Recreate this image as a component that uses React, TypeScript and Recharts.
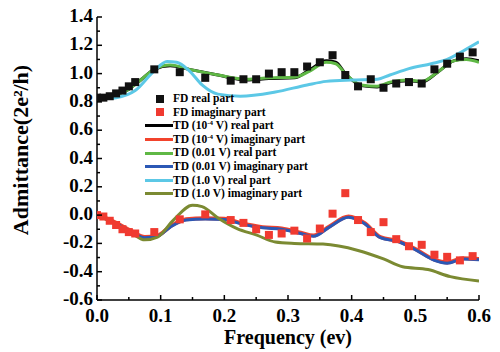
import React from 'react';
import {
  ComposedChart,
  Line,
  Scatter,
  XAxis,
  YAxis,
  Legend,
} from 'recharts';

// FD points (frequency in eV, admittance in 2e^2/h)
const fdFreq = [0, 0.01, 0.02, 0.03, 0.04, 0.05, 0.06, 0.09, 0.13, 0.17, 0.21, 0.23, 0.25, 0.27, 0.29, 0.31, 0.33, 0.35, 0.37, 0.39, 0.41, 0.43, 0.45, 0.47, 0.49, 0.51, 0.53, 0.55, 0.57, 0.59];
const fdReal = [0.83, 0.83, 0.84, 0.86, 0.88, 0.91, 0.94, 1.03, 1.01, 0.97, 0.95, 0.96, 0.96, 1.0, 1.01, 1.01, 1.05, 1.08, 1.13, 0.99, 0.91, 0.96, 0.9, 0.93, 0.94, 0.93, 1.03, 1.07, 1.12, 1.15];
const fdImag = [0.0, -0.01, -0.04, -0.07, -0.1, -0.12, -0.13, -0.12, -0.03, 0.005, -0.035, -0.055, -0.1, -0.14, -0.13, -0.11, -0.165, -0.095, 0.01, 0.155, -0.035, -0.12, -0.05, -0.17, -0.22, -0.21, -0.28, -0.295, -0.32, -0.29];

// TD curves
const realFreq = [0, 0.03, 0.05, 0.07, 0.09, 0.115, 0.145, 0.19, 0.235, 0.27, 0.31, 0.335, 0.36, 0.375, 0.39, 0.415, 0.44, 0.46, 0.49, 0.51, 0.535, 0.56, 0.58, 0.6];
const tdLowReal = [0.82, 0.85, 0.89, 0.96, 1.03, 1.055, 1.03, 0.99, 0.955, 0.965, 0.97, 1.03, 1.09, 1.08, 1.0, 0.915, 0.905, 0.935, 0.95, 0.94, 1.01, 1.09, 1.105, 1.09];
const tdMidReal = [0.82, 0.85, 0.89, 0.96, 1.03, 1.06, 1.03, 0.99, 0.96, 0.97, 0.975, 1.02, 1.08, 1.07, 1.0, 0.92, 0.91, 0.94, 0.955, 0.945, 1.01, 1.09, 1.1, 1.08];

const cyanFreq = [0, 0.03, 0.06, 0.09, 0.11, 0.125, 0.145, 0.165, 0.19, 0.225, 0.28, 0.33, 0.36, 0.4, 0.44, 0.46, 0.49, 0.525, 0.55, 0.575, 0.6];
const tdHighReal = [0.82, 0.83, 0.88, 1.02, 1.085, 1.08, 1.02, 0.92, 0.855, 0.84, 0.87, 0.92, 0.945, 0.955, 0.96, 0.99, 1.035, 1.07, 1.1, 1.16, 1.225];

const imagFreq = [0, 0.03, 0.055, 0.075, 0.095, 0.115, 0.14, 0.17, 0.2, 0.225, 0.26, 0.29, 0.32, 0.34, 0.365, 0.395, 0.42, 0.445, 0.475, 0.5, 0.53, 0.55, 0.575, 0.6];
const tdLowImag = [0.005, -0.055, -0.115, -0.155, -0.145, -0.08, -0.03, -0.022, -0.026, -0.055, -0.085, -0.095, -0.125, -0.145, -0.08, -0.01, -0.055, -0.155, -0.185, -0.24, -0.315, -0.335, -0.305, -0.31];
const tdMidImag = [0.0, -0.06, -0.12, -0.16, -0.15, -0.085, -0.035, -0.028, -0.031, -0.06, -0.09, -0.1, -0.13, -0.15, -0.085, -0.015, -0.06, -0.16, -0.19, -0.245, -0.32, -0.34, -0.31, -0.315];

const oliveFreq = [0, 0.03, 0.055, 0.075, 0.095, 0.12, 0.15, 0.165, 0.19, 0.22, 0.25, 0.28, 0.31, 0.355, 0.41, 0.45, 0.48, 0.52, 0.555, 0.6];
const tdHighImag = [0, -0.065, -0.13, -0.175, -0.155, -0.035, 0.07, 0.06, -0.02, -0.095, -0.14, -0.19, -0.2, -0.205, -0.25, -0.31, -0.365, -0.385, -0.435, -0.465];

const xTicks = [0, 0.05, 0.1, 0.15, 0.2, 0.25, 0.3, 0.35, 0.4, 0.45, 0.5, 0.55, 0.6];
const yTicks = [-0.6, -0.5, -0.4, -0.3, -0.2, -0.1, 0, 0.1, 0.2, 0.3, 0.4, 0.5, 0.6, 0.7, 0.8, 0.9, 1.0, 1.1, 1.2, 1.3, 1.4];

const legendItems = [
  { kind: 'square', color: '#111111', label: ['FD real part'] },
  { kind: 'square', color: '#f03a30', label: ['FD imaginary part'] },
  { kind: 'line', color: '#000000', label: ['TD (10', '-4', ' V) real part'] },
  { kind: 'line', color: '#f2432c', label: ['TD (10', '-4', ' V) imaginary part'] },
  { kind: 'line', color: '#5fb845', label: ['TD (0.01 V) real part'] },
  { kind: 'line', color: '#2b58b5', label: ['TD (0.01 V) imaginary part'] },
  { kind: 'line', color: '#5cc8e6', label: ['TD (1.0 V) real part'] },
  { kind: 'line', color: '#7b8a32', label: ['TD (1.0 V) imaginary part'] },
];

const zip = (xs: number[], ys: number[]) => xs.map((f, i) => ({ f, v: ys[i] }));

const FONT = '"Liberation Serif", "Times New Roman", serif';
const PL = 97;
const PR = 479;
const PT = 17;
const PB = 300;

const isMajor = (v: number, step: number) => Math.abs(v / step - Math.round(v / step)) < 1e-6;

const BottomTick = (props: any) => {
  const { x, payload } = props;
  const major = isMajor(payload.value, 0.1);
  return (
    <g>
      <line x1={x} y1={PB} x2={x} y2={PB - (major ? 5 : 3)} stroke="#000" strokeWidth={1.5} />
      {major && (
        <text x={x} y={PB + 22} textAnchor="middle" fontFamily={FONT} fontWeight="bold" fontSize={19} fill="#000">
          {payload.value.toFixed(1)}
        </text>
      )}
    </g>
  );
};

const TopTick = (props: any) => {
  const { x, payload } = props;
  const major = isMajor(payload.value, 0.1);
  return <line x1={x} y1={PT} x2={x} y2={PT + (major ? 5 : 3)} stroke="#000" strokeWidth={1.5} />;
};

const LeftTick = (props: any) => {
  const { y, payload } = props;
  const major = isMajor(payload.value, 0.2);
  return (
    <g>
      <line x1={PL} y1={y} x2={PL + (major ? 5 : 3)} y2={y} stroke="#000" strokeWidth={1.5} />
      {major && (
        <text x={PL - 4} y={y + 5} textAnchor="end" fontFamily={FONT} fontWeight="bold" fontSize={19} fill="#000">
          {payload.value.toFixed(1)}
        </text>
      )}
    </g>
  );
};

const RightTick = (props: any) => {
  const { y, payload } = props;
  const major = isMajor(payload.value, 0.2);
  return <line x1={PR} y1={y} x2={PR - (major ? 5 : 3)} y2={y} stroke="#000" strokeWidth={1.5} />;
};

const squareShape = (color: string) => (props: any) => (
  <rect x={props.cx - 4} y={props.cy - 4} width={8} height={8} fill={color} />
);

const LegendBox = () => (
  <div style={{ fontFamily: FONT, fontWeight: 'bold', fontSize: 11.5, color: '#000', lineHeight: '13.6px' }}>
    {legendItems.map((it, i) => (
      <div key={i} style={{ display: 'flex', alignItems: 'center', height: 13.6 }}>
        <div style={{ width: 28, height: 13.6, position: 'relative' }}>
          {it.kind === 'square' ? (
            <div style={{ position: 'absolute', left: 11, top: 2.8, width: 8, height: 8, background: it.color }} />
          ) : (
            <div style={{ position: 'absolute', left: 0, top: 5.3, width: 28, height: 3, background: it.color }} />
          )}
        </div>
        <span style={{ whiteSpace: 'nowrap' }}>
          {it.label[0]}
          {it.label.length > 1 && <sup style={{ fontSize: 7, verticalAlign: 'top', lineHeight: '8px' }}>{it.label[1]}</sup>}
          {it.label[2]}
        </span>
      </div>
    ))}
  </div>
);

const App = () => {
  return (
    <div style={{ position: 'absolute', left: 0, top: 0, width: 500, height: 352, background: '#fff' }}>
      <ComposedChart width={500} height={352} margin={{ top: PT, right: 500 - PR, left: PL - 60, bottom: 0 }}>
        <XAxis
          xAxisId="bottom"
          type="number"
          dataKey="f"
          domain={[0, 0.6]}
          ticks={xTicks}
          interval={0}
          height={52}
          tickLine={false}
          tick={<BottomTick />}
          axisLine={{ stroke: '#000', strokeWidth: 1.5 }}
          allowDataOverflow
        />
        <XAxis
          xAxisId="top"
          orientation="top"
          type="number"
          dataKey="f"
          domain={[0, 0.6]}
          ticks={xTicks}
          interval={0}
          height={0}
          tickLine={false}
          tick={<TopTick />}
          axisLine={{ stroke: '#000', strokeWidth: 1.5 }}
          allowDataOverflow
        />
        <YAxis
          yAxisId="left"
          type="number"
          domain={[-0.6, 1.4]}
          ticks={yTicks}
          interval={0}
          width={60}
          tickLine={false}
          tick={<LeftTick />}
          axisLine={{ stroke: '#000', strokeWidth: 1.5 }}
          allowDataOverflow
          label={{
            content: () => (
              <text
                x={28}
                y={150}
                transform="rotate(-90 28 150)"
                textAnchor="middle"
                fontFamily={FONT}
                fontWeight="bold"
                fontSize={22}
                fill="#000"
              >
                Admittance(2e²/h)
              </text>
            ),
          }}
        />
        <YAxis
          yAxisId="right"
          orientation="right"
          type="number"
          domain={[-0.6, 1.4]}
          ticks={yTicks}
          interval={0}
          width={0}
          tickLine={false}
          tick={<RightTick />}
          axisLine={{ stroke: '#000', strokeWidth: 1.5 }}
          allowDataOverflow
        />
        <Legend
          layout="vertical"
          align="center"
          verticalAlign="middle"
          wrapperStyle={{ left: 145, top: 92, width: 200 }}
          content={() => <LegendBox />}
        />
        <Scatter xAxisId="bottom" yAxisId="left" data={zip(fdFreq, fdReal)} dataKey="v" fill="#111111" shape={squareShape('#111111')} isAnimationActive={false} />
        <Scatter xAxisId="bottom" yAxisId="left" data={zip(fdFreq, fdImag)} dataKey="v" fill="#f03a30" shape={squareShape('#f03a30')} isAnimationActive={false} />
        <Line xAxisId="bottom" yAxisId="left" data={zip(realFreq, tdLowReal)} dataKey="v" type="monotone" stroke="#000000" strokeWidth={3} dot={false} activeDot={false} isAnimationActive={false} />
        <Line xAxisId="bottom" yAxisId="left" data={zip(imagFreq, tdLowImag)} dataKey="v" type="monotone" stroke="#f2432c" strokeWidth={4} dot={false} activeDot={false} isAnimationActive={false} />
        <Line xAxisId="bottom" yAxisId="left" data={zip(realFreq, tdMidReal)} dataKey="v" type="monotone" stroke="#5fb845" strokeWidth={3} dot={false} activeDot={false} isAnimationActive={false} />
        <Line xAxisId="bottom" yAxisId="left" data={zip(imagFreq, tdMidImag)} dataKey="v" type="monotone" stroke="#2b58b5" strokeWidth={3} dot={false} activeDot={false} isAnimationActive={false} />
        <Line xAxisId="bottom" yAxisId="left" data={zip(cyanFreq, tdHighReal)} dataKey="v" type="monotone" stroke="#5cc8e6" strokeWidth={3} dot={false} activeDot={false} isAnimationActive={false} />
        <Line xAxisId="bottom" yAxisId="left" data={zip(oliveFreq, tdHighImag)} dataKey="v" type="monotone" stroke="#7b8a32" strokeWidth={3} dot={false} activeDot={false} isAnimationActive={false} />
        <text x={288} y={344} textAnchor="middle" fontFamily={FONT} fontWeight="bold" fontSize={20} fill="#000">
          Frequency (ev)
        </text>
      </ComposedChart>
    </div>
  );
};

export default App;
